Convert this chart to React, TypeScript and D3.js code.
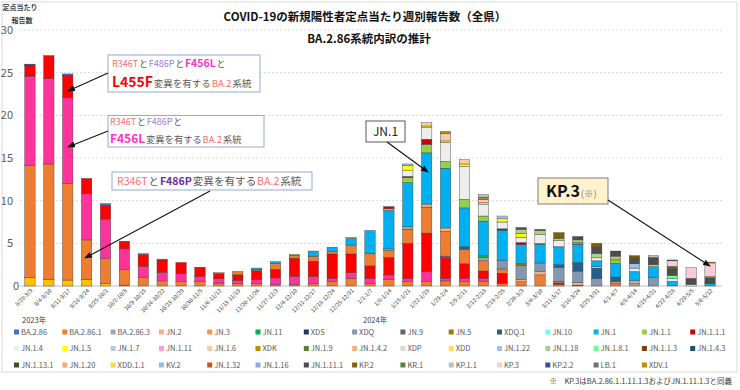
import React, { useEffect, useRef } from 'react';
import * as d3 from 'd3';

// 週（2023/8/28 〜 2024/5/12）
const weeks = [
  '8/28-9/3', '9/4-9/10', '9/11-9/17', '9/18-9/24', '9/25-10/1', '10/2-10/8', '10/9-10/15',
  '10/16-10/22', '10/23-10/29', '10/30-11/5', '11/6-11/12', '11/13-11/19', '11/20-11/26',
  '11/27-12/3', '12/4-12/10', '12/11-12/17', '12/18-12/24', '12/25-12/31', '1/1-1/7',
  '1/8-1/14', '1/15-1/21', '1/22-1/28', '1/29-2/4', '2/5-2/11', '2/12-2/18', '2/19-2/25',
  '2/26-3/3', '3/4-3/10', '3/11-3/17', '3/18-3/24', '3/25-3/31', '4/1-4/7', '4/8-4/14',
  '4/15-4/21', '4/22-4/28', '4/29-5/5', '5/6-5/12',
];

const yTicks = [0, 5, 10, 15, 20, 25, 30];

// BA.2系統（凡例なし）
const vOther = [1.0, 0.8, 0.7, 0.8, 0.3, 0.1, 0, 0, 0, 0, 0, 0, 0, 0, 0, 0, 0, 0, 0, 0, 0, 0, 0, 0, 0, 0, 0, 0, 0, 0, 0, 0, 0, 0, 0, 0, 0];
const vF486P = [13.1, 13.5, 11.3, 4.6, 2.9, 1.85, 1.0, 0.6, 0.5, 0.5, 0.35, 0.3, 0.3, 0.15, 0.2, 0.3, 0.5, 0.9, 0.3, 0.8, 0.5, 0.5, 0.6, 0.5, 0.5, 0.3, 0, 0, 0.2, 0, 0, 0, 0, 0, 0, 0, 0];
const vF456L = [10.5, 10.0, 10.1, 5.4, 4.65, 2.4, 1.3, 1.0, 1.0, 0.6, 0.5, 0.35, 0.5, 0.8, 0.95, 0.8, 0.4, 0.65, 0.6, 0.5, 0.4, 1.2, 0.3, 0.4, 0.4, 0, 0, 0, 0, 0, 0, 0, 0, 0, 0, 0, 0];
const vL455F = [1.3, 2.7, 2.6, 1.8, 1.6, 0.9, 1.4, 1.45, 1.25, 1.1, 0.6, 0.65, 1.0, 1.0, 2.1, 1.8, 2.85, 2.2, 1.45, 2.05, 4.1, 4.5, 2.4, 1.7, 0.85, 1.2, 0, 0, 0.15, 0.1, 0, 0, 0, 0, 0, 0, 0];

// BA.2.86系統
const vBA286 = [0.1, 0, 0.15, 0, 0.2, 0, 0, 0, 0, 0, 0, 0, 0, 0, 0, 0, 0, 0, 0, 0, 0, 0, 0.2, 0, 0, 0, 0, 0, 0, 0, 0, 0, 0, 0, 0, 0, 0];
const vBA2861 = [0, 0, 0, 0, 0, 0, 0, 0.1, 0, 0, 0.1, 0.4, 0.15, 0.7, 0.35, 0.6, 0.3, 1.05, 1.5, 0.8, 1.65, 3.05, 2.9, 1.7, 1.2, 0.5, 0.5, 1.3, 0.2, 0, 0, 0.35, 0, 0, 0, 0, 0];
const vBA2863 = [0, 0, 0, 0, 0, 0, 0.1, 0, 0, 0, 0, 0, 0, 0, 0, 0, 0, 0, 0, 0.2, 0.3, 0, 0, 0, 0.4, 0, 0, 0, 0, 0, 0, 0, 0.3, 0, 0, 0, 0];
const vJN2 = [0, 0, 0, 0, 0, 0, 0, 0, 0, 0, 0, 0, 0, 0, 0, 0, 0, 0, 0, 0, 0, 0.35, 0.4, 0, 0, 0, 0.3, 0.4, 0, 0.3, 0, 0.15, 0.3, 0, 0, 0, 0];
const vJN11 = [0, 0, 0, 0, 0, 0, 0, 0, 0, 0, 0, 0, 0, 0, 0, 0, 0, 0, 0, 0, 0, 0, 0, 0, 0.2, 0, 0, 0, 0, 0, 0, 0, 0, 0, 0, 0, 0];
const vXDQ = [0, 0, 0, 0, 0, 0, 0, 0, 0, 0, 0, 0, 0, 0, 0, 0, 0, 0, 0, 0, 0, 0, 0, 0, 0, 1.0, 1.6, 1.0, 1.65, 1.35, 0.9, 0, 0, 1.0, 0, 0, 0];
const vJN5 = [0, 0, 0, 0, 0, 0, 0, 0, 0, 0, 0, 0, 0, 0, 0, 0, 0, 0, 0, 0, 0, 0, 0, 0, 0, 0, 0.2, 0, 0, 0, 0, 0, 0, 0, 0, 0, 0];
const vXDQ1 = [0, 0, 0, 0, 0, 0, 0, 0, 0, 0, 0, 0, 0, 0, 0, 0, 0, 0, 0, 0, 0, 0, 0, 0.3, 0, 0, 0, 0, 0.3, 1.0, 1.2, 0.55, 0, 0, 0, 0, 0];
const vJN10 = [0, 0, 0, 0, 0, 0, 0, 0, 0, 0, 0, 0, 0, 0, 0, 0, 0, 0, 0, 0, 0, 0, 0, 0, 0, 0, 0, 0, 0, 0, 0.15, 0, 0, 0, 0, 0, 0];
const vJN1 = [0, 0, 0, 0, 0, 0, 0, 0, 0, 0, 0, 0, 0.15, 0.2, 0, 0.6, 0.5, 0.75, 2.65, 4.5, 5.15, 6.0, 7.0, 4.55, 4.05, 3.55, 2.25, 2.2, 2.0, 2.15, 0.7, 1.6, 1.1, 1.25, 0.55, 0, 0.3];
const vJN1_1 = [0, 0, 0, 0, 0, 0, 0, 0, 0, 0, 0, 0, 0, 0, 0.1, 0, 0, 0.15, 0, 0.2, 0.6, 1.0, 0.8, 1.0, 0.6, 0, 0, 0.1, 0.1, 0, 0, 0.3, 0, 0, 0, 0, 0];
const vJN1_1_1 = [0, 0, 0, 0, 0, 0, 0, 0, 0, 0, 0, 0, 0, 0, 0, 0, 0, 0, 0, 0.25, 0.15, 0.6, 0, 0, 0, 0.15, 0.25, 0, 0, 0, 0, 0, 0, 0, 0, 0, 0];
const vJN1_4 = [0, 0, 0, 0, 0, 0, 0, 0, 0, 0, 0, 0, 0, 0, 0, 0, 0, 0, 0, 0, 0.65, 1.35, 2.2, 3.85, 1.4, 0.8, 0.6, 1.0, 0.7, 0, 0.35, 0, 0.4, 0, 0.3, 0.2, 0];
const vJN1_5 = [0, 0, 0, 0, 0, 0, 0, 0, 0, 0, 0, 0, 0, 0, 0, 0, 0, 0, 0, 0, 0.6, 0.2, 0.2, 0.3, 0.15, 0.4, 0.45, 0, 0, 0, 0, 0.2, 0, 0, 0, 0, 0];
const vJN1_7 = [0, 0, 0, 0, 0, 0, 0, 0, 0, 0, 0, 0, 0, 0, 0, 0, 0, 0, 0, 0, 0, 0, 0, 0, 0, 0.3, 0, 0, 0, 0, 0, 0, 0, 0, 0, 0, 0];
const vJN1_6 = [0, 0, 0, 0, 0, 0, 0, 0, 0, 0, 0, 0, 0, 0, 0, 0, 0, 0, 0, 0, 0, 0.4, 0.85, 0.5, 0.4, 0, 0, 0, 0, 0, 0, 0, 0, 0, 0, 0, 0];
const vXDK = [0, 0, 0, 0, 0, 0, 0, 0, 0, 0, 0, 0, 0, 0, 0, 0, 0, 0, 0, 0, 0, 0, 0.25, 0, 0.25, 0, 0, 0, 0, 0.2, 0, 0, 0, 0, 0, 0, 0];
const vJN1_22 = [0, 0, 0, 0, 0, 0, 0, 0, 0, 0, 0, 0, 0, 0, 0, 0, 0, 0, 0, 0, 0.2, 0, 0, 0, 0.3, 0, 0, 0, 0, 0, 0, 0, 0.5, 0, 0, 0, 0];
const vJN1_18 = [0, 0, 0, 0, 0, 0, 0, 0, 0, 0, 0, 0, 0, 0, 0, 0, 0, 0, 0, 0, 0, 0, 0, 0, 0, 0, 0.5, 0.5, 0.3, 0.3, 0.5, 0.35, 0, 0.25, 0, 0, 0];
const vJN1_8_1 = [0, 0, 0, 0, 0, 0, 0, 0, 0, 0, 0, 0, 0, 0, 0, 0, 0, 0, 0, 0, 0, 0, 0, 0, 0, 0, 0, 0, 0, 0, 0, 0, 0, 0, 0.4, 0, 0];
const vJN1_13_1 = [0, 0, 0, 0, 0, 0, 0, 0, 0, 0, 0, 0, 0, 0, 0, 0, 0, 0, 0, 0, 0, 0, 0, 0, 0, 0, 0, 0, 0, 0, 0, 0, 0, 0, 0, 0.2, 0.2];
const vJN1_11_1 = [0, 0, 0, 0, 0, 0, 0, 0, 0, 0, 0, 0, 0, 0, 0, 0, 0, 0, 0, 0, 0, 0, 0, 0, 0, 0, 0.2, 0, 0, 0.4, 0.8, 0.6, 0.75, 0.85, 0.8, 0.5, 0.5];
const vKP2 = [0, 0, 0, 0, 0, 0, 0, 0, 0, 0, 0, 0, 0, 0, 0, 0, 0, 0, 0, 0, 0, 0, 0, 0, 0, 0, 0, 0.15, 0.65, 0, 0.4, 0, 0.2, 0, 0.25, 0, 0];
const vKP1_1 = [0, 0, 0, 0, 0, 0, 0, 0, 0, 0, 0, 0, 0, 0, 0, 0, 0, 0, 0, 0, 0, 0, 0, 0, 0, 0, 0, 0, 0, 0, 0, 0, 0, 0.2, 0, 0, 0.1];
const vKP3 = [0, 0, 0, 0, 0, 0, 0, 0, 0, 0, 0, 0, 0, 0, 0, 0, 0, 0, 0, 0, 0, 0, 0, 0, 0, 0, 0, 0, 0, 0, 0, 0, 0, 0, 0.65, 1.25, 1.6];
const vKP2_2 = [0, 0, 0, 0, 0, 0, 0, 0, 0, 0, 0, 0, 0, 0, 0, 0, 0, 0, 0, 0, 0, 0, 0, 0, 0, 0, 0, 0, 0, 0, 0, 0, 0, 0, 0.1, 0, 0];
const vXDV1 = [0, 0, 0, 0, 0, 0, 0, 0, 0, 0, 0, 0, 0, 0, 0, 0, 0, 0, 0, 0, 0, 0, 0, 0, 0, 0, 0, 0, 0, 0, 0, 0, 0, 0, 0, 0, 0.1];

type Series = { name: string; color: string; values: number[] | null; legend: boolean };

// 積み上げ順（下から）
const series: Series[] = [
  { name: 'other', color: '#FFC000', values: vOther, legend: false },
  { name: 'F486P', color: '#ED7D31', values: vF486P, legend: false },
  { name: 'F456L', color: '#FF3399', values: vF456L, legend: false },
  { name: 'L455F', color: '#FF0000', values: vL455F, legend: false },
  { name: 'BA.2.86', color: '#4472C4', values: vBA286, legend: true },
  { name: 'BA.2.86.1', color: '#ED7D31', values: vBA2861, legend: true },
  { name: 'BA.2.86.3', color: '#A5A5A5', values: vBA2863, legend: true },
  { name: 'JN.2', color: '#F4B183', values: vJN2, legend: true },
  { name: 'JN.3', color: '#F79646', values: null, legend: true },
  { name: 'JN.11', color: '#00B050', values: vJN11, legend: true },
  { name: 'XDS', color: '#203864', values: null, legend: true },
  { name: 'XDQ', color: '#8497B0', values: vXDQ, legend: true },
  { name: 'JN.9', color: '#636363', values: null, legend: true },
  { name: 'JN.5', color: '#9C7A0E', values: vJN5, legend: true },
  { name: 'XDQ.1', color: '#255E91', values: vXDQ1, legend: true },
  { name: 'JN.10', color: '#66FFFF', values: vJN10, legend: true },
  { name: 'JN.1', color: '#00B0F0', values: vJN1, legend: true },
  { name: 'JN.1.1', color: '#92D050', values: vJN1_1, legend: true },
  { name: 'JN.1.1.1', color: '#D00000', values: vJN1_1_1, legend: true },
  { name: 'JN.1.4', color: '#EDEDED', values: vJN1_4, legend: true },
  { name: 'JN.1.5', color: '#FFFF00', values: vJN1_5, legend: true },
  { name: 'JN.1.7', color: '#B4C7E7', values: vJN1_7, legend: true },
  { name: 'JN.1.11', color: '#FF99E6', values: null, legend: true },
  { name: 'JN.1.6', color: '#F8CBAD', values: vJN1_6, legend: true },
  { name: 'XDK', color: '#BF9000', values: vXDK, legend: true },
  { name: 'JN.1.9', color: '#548235', values: null, legend: true },
  { name: 'JN.1.4.2', color: '#F4B183', values: null, legend: true },
  { name: 'XDP', color: '#D9D9D9', values: null, legend: true },
  { name: 'XDD', color: '#FFD966', values: null, legend: true },
  { name: 'JN.1.22', color: '#9DC3E6', values: vJN1_22, legend: true },
  { name: 'JN.1.18', color: '#A9D18E', values: vJN1_18, legend: true },
  { name: 'JN.1.8.1', color: '#66FF99', values: vJN1_8_1, legend: true },
  { name: 'JN.1.1.3', color: '#843C0C', values: null, legend: true },
  { name: 'JN.1.4.3', color: '#1F4E79', values: null, legend: true },
  { name: 'JN.1.13.1', color: '#375623', values: vJN1_13_1, legend: true },
  { name: 'JN.1.20', color: '#F8A77A', values: null, legend: true },
  { name: 'XDD.1.1', color: '#FFD54A', values: null, legend: true },
  { name: 'KV.2', color: '#8FBCE6', values: null, legend: true },
  { name: 'JN.1.32', color: '#C55A11', values: null, legend: true },
  { name: 'JN.1.16', color: '#8FAADC', values: null, legend: true },
  { name: 'JN.1.11.1', color: '#4D4D4D', values: vJN1_11_1, legend: true },
  { name: 'KP.2', color: '#7F6000', values: vKP2, legend: true },
  { name: 'KR.1', color: '#4E8A3A', values: null, legend: true },
  { name: 'KP.1.1', color: '#BFBFBF', values: vKP1_1, legend: true },
  { name: 'KP.3', color: '#F9CCD3', values: vKP3, legend: true },
  { name: 'KP.2.2', color: '#2F5597', values: vKP2_2, legend: true },
  { name: 'LB.1', color: '#707070', values: null, legend: true },
  { name: 'XDV.1', color: '#BF8F00', values: vXDV1, legend: true },
];

const FONT = '"Noto Sans CJK JP", "Noto Sans", sans-serif';

const App = () => {
  const ref = useRef<SVGSVGElement>(null);

  useEffect(() => {
    const svg = d3.select(ref.current);
    svg.selectAll('*').remove();
    svg.style('font-family', FONT);

    const x = d3.scaleBand().domain(weeks).range([20.5, 719.5]).paddingInner(0.45).paddingOuter(0.225);
    const y = d3.scaleLinear().domain([0, 30]).range([286, 30]);

    // 外枠
    svg.append('rect').attr('x', 2).attr('y', 2).attr('width', 735).attr('height', 370)
      .attr('fill', '#fff').attr('stroke', '#d9d9d9');

    const defs = svg.append('defs');
    defs.append('marker').attr('id', 'arr').attr('viewBox', '0 0 10 10').attr('refX', 9).attr('refY', 5)
      .attr('markerWidth', 7).attr('markerHeight', 7).attr('orient', 'auto')
      .append('path').attr('d', 'M0,1 L10,5 L0,9 z').attr('fill', '#111');

    // グリッド線
    svg.append('g').selectAll('line').data(yTicks.filter(d => d > 0)).enter().append('line')
      .attr('x1', 20).attr('x2', 722).attr('y1', d => y(d)).attr('y2', d => y(d))
      .attr('stroke', '#d9d9d9').attr('stroke-dasharray', '2,2');
    svg.append('line').attr('x1', 20).attr('x2', 722).attr('y1', y(0)).attr('y2', y(0)).attr('stroke', '#bfbfbf');

    // 目盛りラベル
    svg.append('g').selectAll('text').data(yTicks).enter().append('text')
      .attr('x', d => (d === 0 ? 19 : 13)).attr('y', d => y(d)).attr('dy', '0.35em').attr('text-anchor', 'end')
      .style('font-size', '11px').attr('fill', '#595959').text(d => d);

    svg.append('text').attr('x', 20).attr('y', 10).attr('text-anchor', 'middle')
      .style('font-size', '7px').style('font-weight', 'bold').attr('fill', '#404040').text('定点当たり');
    svg.append('text').attr('x', 22).attr('y', 23).attr('text-anchor', 'middle')
      .style('font-size', '7px').style('font-weight', 'bold').attr('fill', '#404040').text('報告数');

    // タイトル
    svg.append('text').attr('x', 365).attr('y', 21).attr('text-anchor', 'middle')
      .style('font-size', '11.5px').style('font-weight', 'bold').attr('fill', '#111')
      .text('COVID-19の新規陽性者定点当たり週別報告数（全県）');
    svg.append('text').attr('x', 369).attr('y', 43).attr('text-anchor', 'middle')
      .style('font-size', '11.5px').style('font-weight', 'bold').attr('fill', '#111')
      .text('BA.2.86系統内訳の推計');

    // 積み上げ棒
    const rows = weeks.map((w, i) => {
      const r: Record<string, number | string> = { week: w };
      series.forEach(s => { r[s.name] = s.values ? s.values[i] : 0; });
      return r;
    });
    const stack = d3.stack<Record<string, number | string>>()
      .keys(series.map(s => s.name))
      .value((d, k) => d[k] as number);
    const layers = stack(rows);

    const gBars = svg.append('g');
    layers.forEach((layer, li) => {
      gBars.append('g').attr('fill', series[li].color).selectAll('rect')
        .data(layer.filter(d => d[1] - d[0] > 0)).enter().append('rect')
        .attr('x', d => x(d.data.week as string)!)
        .attr('width', x.bandwidth())
        .attr('y', d => y(d[1]))
        .attr('height', d => y(d[0]) - y(d[1]))
        .attr('stroke', '#3a3a3a').attr('stroke-width', 0.4);
    });

    // 横軸ラベル
    svg.append('g').selectAll('text').data(weeks).enter().append('text')
      .attr('transform', d => `translate(${x(d)! + x.bandwidth() / 2 + 3},${291}) rotate(-45)`)
      .attr('text-anchor', 'end').style('font-size', '5.6px').attr('fill', '#404040').text(d => d);

    svg.append('text').attr('x', 22).attr('y', 323).style('font-size', '7.5px').attr('fill', '#404040').text('2023年');
    svg.append('text').attr('x', 363).attr('y', 323).style('font-size', '7.5px').attr('fill', '#404040').text('2024年');

    // 凡例
    const legendItems = series.filter(s => s.legend);
    const lg = svg.append('g').selectAll('g').data(legendItems).enter().append('g')
      .attr('transform', (d, i) => `translate(${14 + (i % 15) * 48.3},${332 + Math.floor(i / 15) * 16.5})`);
    lg.append('rect').attr('x', 0).attr('y', -2.5).attr('width', 5).attr('height', 5).attr('fill', d => d.color);
    lg.append('text').attr('x', 7).attr('y', 0).attr('dy', '0.35em').style('font-size', '7.5px')
      .attr('fill', '#595959').text(d => d.name);

    svg.append('text').attr('x', 732).attr('y', 384).attr('text-anchor', 'end').style('font-size', '7.5px')
      .attr('fill', '#404040').text('※　KP.3はBA.2.86.1.1.11.1.3およびJN.1.11.1.3と同義');

    // 注釈
    const gray = '#595959';
    const salmon = '#FF6F6F';
    const lilac = '#9B7FD0';
    const magenta = '#FF33CC';
    const note = svg.append('g');
    const box = (bx: number, by: number, bw: number, bh: number, stroke: string, fill = '#fff') =>
      note.append('rect').attr('x', bx).attr('y', by).attr('width', bw).attr('height', bh)
        .attr('fill', fill).attr('stroke', stroke).attr('stroke-width', 1);
    // 色・大きさの違う文字片を横に並べる（片ごとに幅を測って次を置く）
    const line = (parts: [string, string, number, boolean][], tx: number, ty: number) => {
      let cx = tx;
      parts.forEach(([txt, c, fs, b]) => {
        const t = note.append('text').attr('x', cx).attr('y', ty).attr('fill', c)
          .style('font-size', `${fs}px`).style('font-weight', b ? 'bold' : 'normal').text(txt);
        const node = t.node() as SVGTextElement;
        cx += node.getComputedTextLength() + 0.8;
      });
    };
    const arrow = (x1: number, y1: number, x2: number, y2: number) =>
      note.append('line').attr('x1', x1).attr('y1', y1).attr('x2', x2).attr('y2', y2)
        .attr('stroke', '#111').attr('stroke-width', 1.1).attr('marker-end', 'url(#arr)');

    box(108, 55, 152, 37, '#8EA9DB');
    line([['R346T', salmon, 9, false], ['と', gray, 9, false], ['F486P', lilac, 9, false], ['と', gray, 9, false],
      ['F456L', magenta, 10.5, true], ['と', gray, 9, false]], 112, 66.5);
    line([['L455F', '#FF0000', 14, true], ['変異を有する', gray, 9.5, false], ['BA.2', salmon, 9.5, false], ['系統', gray, 9.5, false]], 112, 86.5);
    arrow(108, 73, 68, 91);

    box(108, 115.5, 156, 31.5, '#8EA9DB');
    line([['R346T', salmon, 9, false], ['と', gray, 9, false], ['F486P', lilac, 9, false], ['と', gray, 9, false]], 110, 125);
    line([['F456L', magenta, 12, true], ['変異を有する', gray, 9.3, false], ['BA.2', salmon, 9.3, false], ['系統', gray, 9.3, false]], 110, 142.5);
    arrow(108, 131, 68, 147);

    box(112, 172, 200, 18, '#8EA9DB');
    line([['R346T', salmon, 10.6, false], ['と', gray, 10.6, false], ['F486P', '#7030A0', 10.6, true], ['変異を有する', gray, 10.6, false],
      ['BA.2', salmon, 10.6, false], ['系統', gray, 10.6, false]], 117, 185);
    arrow(210, 191, 85, 258);

    box(366, 121, 39, 21, '#595959');
    note.append('text').attr('x', 385.5).attr('y', 136).attr('text-anchor', 'middle').style('font-size', '12px')
      .attr('fill', '#222').text('JN.1');
    arrow(387, 142, 428, 172);

    box(538, 178, 70, 26, '#7F7F7F', '#FFF2CC');
    line([['KP.3', '#111', 16, true], ['(※)', '#7F7F7F', 9.5, false]], 546, 197);
    arrow(608, 200, 710, 266);
  }, []);

  return (
    <div style={{ position: 'absolute', left: 0, top: 0 }}>
      <svg ref={ref} width={740} height={390} style={{ display: 'block', background: '#fff' }} />
    </div>
  );
};

export default App;
